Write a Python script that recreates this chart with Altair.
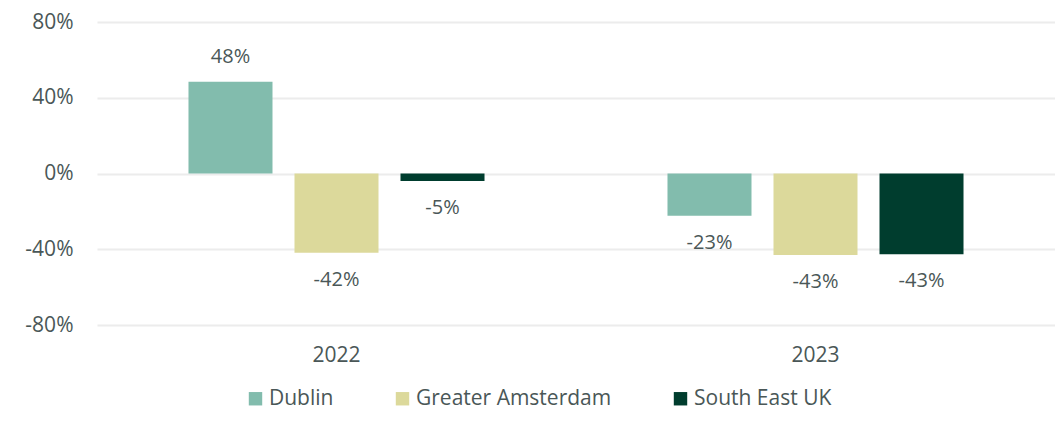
import altair as alt
import pandas as pd

years = ["2022", "2022", "2022", "2023", "2023", "2023"]
markets = ["Dublin", "Greater Amsterdam", "South East UK"] * 2
values = [48.5, -41.8, -4, -22.3, -43, -42.6]
labels = ["48%", "-42%", "-5%", "-23%", "-43%", "-43%"]

market_order = ["Dublin", "Greater Amsterdam", "South East UK"]
colors = ["#82bcad", "#dcd99b", "#003d2e"]
y_ticks = [-80, -40, 0, 40, 80]

df = pd.DataFrame({"year": years, "market": markets, "value": values, "label": labels})

FONT = "Open Sans"
TXT = "#4a5757"

x = alt.X("year:N", title=None,
          scale=alt.Scale(paddingInner=0, paddingOuter=0),
          axis=alt.Axis(labelAngle=0, domain=False, ticks=False, labelPadding=19,
                        labelFontSize=21, labelColor=TXT, labelFont=FONT))
xo = alt.XOffset("market:N", sort=market_order,
                 scale=alt.Scale(paddingInner=0.2075, paddingOuter=0.863))
y = alt.Y("value:Q", title=None,
          scale=alt.Scale(domain=[-80, 80], nice=False),
          axis=alt.Axis(values=y_ticks, domain=False, ticks=False, labelPadding=24,
                        labelExpr="datum.value + '%'", gridColor="#ececec", gridWidth=2,
                        labelFontSize=21, labelColor=TXT, labelFont=FONT))

bars = alt.Chart(df).mark_bar().encode(
    x=x, xOffset=xo, y=y,
    color=alt.Color("market:N", sort=market_order,
                    scale=alt.Scale(domain=market_order, range=colors),
                    legend=alt.Legend(title=None, orient="none", direction="horizontal",
                                      legendX=148, legendY=366, symbolType="square",
                                      symbolSize=180, symbolStrokeWidth=0,
                                      labelFontSize=21, labelColor=TXT, labelFont=FONT,
                                      labelLimit=400, labelOffset=3, columnPadding=58,
                                      padding=0)),
)

pos = alt.Chart(df).transform_filter("datum.value >= 0").mark_text(
    dy=-25, fontSize=20, color=TXT, font=FONT
).encode(x=x, xOffset=xo, y=y, text="label:N")

neg = alt.Chart(df).transform_filter("datum.value < 0").mark_text(
    dy=27, fontSize=20, color=TXT, font=FONT
).encode(x=x, xOffset=xo, y=y, text="label:N")

chart = alt.layer(bars, pos, neg).properties(
    width=958, height=303,
    autosize=alt.AutoSizeParams(type="none"),
    padding={"left": 89, "top": 14, "right": 0, "bottom": 88},
).configure_view(stroke=None).configure_axis(labelFont=FONT)

chart.save("out.html", embed_options={"renderer": "svg", "actions": False})
